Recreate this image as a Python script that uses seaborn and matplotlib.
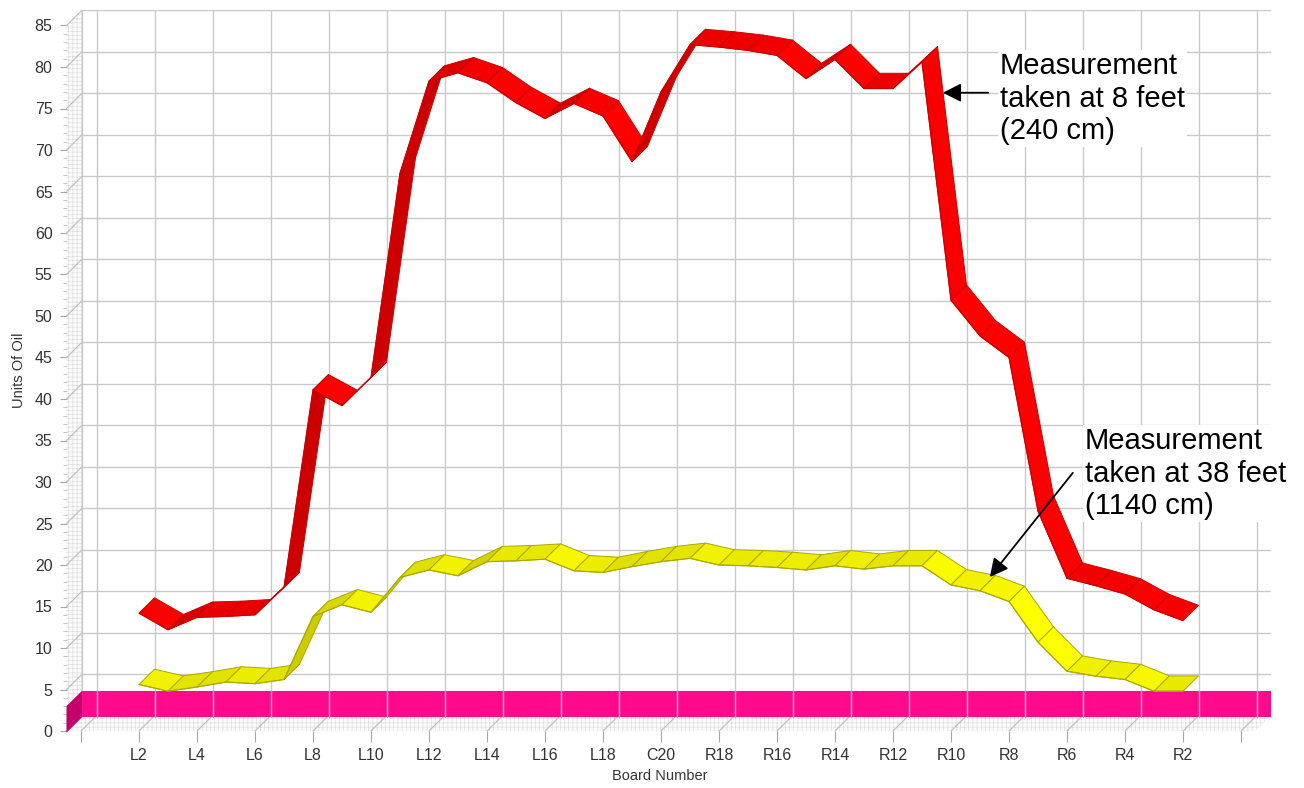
import numpy as np
import pandas as pd
import matplotlib
matplotlib.use("Agg")
import matplotlib.pyplot as plt
from matplotlib.patches import Polygon
import seaborn as sns

# ---------------------------------------------------------------- data
boards = ["L2", "L3", "L4", "L5", "L6", "L7", "L8", "L9", "L10", "L11", "L12",
          "L13", "L14", "L15", "L16", "L17", "L18", "L19", "C20", "R19", "R18",
          "R17", "R16", "R15", "R14", "R13", "R12", "R11", "R10", "R9", "R8",
          "R7", "R6", "R5", "R4", "R3", "R2"]
oil_8ft = [14.2, 12.2, 13.7, 13.8, 14.0, 17.3, 41.1, 39.2, 42.6, 67.2, 78.3,
           79.3, 78.1, 75.7, 73.8, 75.6, 74.1, 68.6, 77.0, 82.7, 82.4,
           82.0, 81.4, 78.6, 80.9, 77.4, 77.4, 80.6, 51.9, 47.6, 45.0,
           26.5, 18.4, 17.5, 16.5, 14.6, 13.3]
oil_38ft = [5.6, 4.8, 5.3, 5.9, 5.7, 6.2, 13.8, 15.2, 14.3, 18.5, 19.4,
            18.7, 20.4, 20.5, 20.7, 19.3, 19.1, 19.8, 20.4, 20.8, 20.0,
            19.9, 19.7, 19.4, 19.9, 19.5, 19.9, 19.9, 17.6, 16.9, 15.6,
            10.7, 7.2, 6.6, 6.2, 4.8, 4.8]
tick_labels = ["", "L2", "L4", "L6", "L8", "L10", "L12", "L14", "L16", "L18",
               "C20", "R18", "R16", "R14", "R12", "R10", "R8", "R6", "R4",
               "R2", ""]
y_ticks = list(range(0, 90, 5))
label_8ft = "Measurement\ntaken at 8 feet\n(240 cm)"
label_38ft = "Measurement\ntaken at 38 feet\n(1140 cm)"


def board_pos(name):
    """Lane position: left boards count up, right boards count down from 40."""
    n = int(name[1:])
    return n if name[0] in "LC" else 40 - n


pos = np.array([board_pos(b) for b in boards], dtype=float)
df = pd.DataFrame({"pos": pos, "ft8": oil_8ft, "ft38": oil_38ft})

# ---------------------------------------------------------------- style
sns.set_theme(style="white")
plt.rcParams["font.family"] = ["Liberation Sans", "DejaVu Sans"]
plt.rcParams["hatch.linewidth"] = 0.4

FIG_W, FIG_H = 1304, 788
PX_BOARD, PX_UNIT = 29.0, 8.3          # screen scale of one board / one unit
DEPTH_PX = (15.5, 15.3)                # oblique depth of the box
X0, X1, Y_TOP = -0.5, 40.5, 85
DB = DEPTH_PX[0] / PX_BOARD
DV = DEPTH_PX[1] / PX_UNIT
LEFT_PX, BOTTOM_PX = 66.5, 731.0

ax_w = (X1 - X0 + DB) * PX_BOARD
ax_h = (Y_TOP + DV) * PX_UNIT
fig = plt.figure(figsize=(FIG_W / 100, FIG_H / 100), dpi=100)
ax = fig.add_axes([LEFT_PX / FIG_W, (FIG_H - BOTTOM_PX) / FIG_H,
                   ax_w / FIG_W, ax_h / FIG_H])
ax.set_xlim(X0, X1 + DB)
ax.set_ylim(0, Y_TOP + DV)
for s in ax.spines.values():
    s.set_visible(False)

GRID = "#c9c9c9"
WALL_HATCH = "#d9d9d9"

# side wall and floor (textured)
left_wall = Polygon([(X0, 0), (X0, Y_TOP), (X0 + DB, Y_TOP + DV), (X0 + DB, DV)],
                    closed=True, facecolor="#fbfbfb", edgecolor=WALL_HATCH,
                    hatch="++++", lw=0, zorder=0.5, clip_on=False)
floor = Polygon([(X0, 0), (X1, 0), (X1 + DB, DV), (X0 + DB, DV)],
                closed=True, facecolor="#fbfbfb", edgecolor=WALL_HATCH,
                hatch="++++", lw=0, zorder=0.5, clip_on=False)
ax.add_patch(left_wall)
ax.add_patch(floor)

# back wall grid
for v in y_ticks:
    ax.plot([X0 + DB, X1 + DB], [v + DV, v + DV], color=GRID, lw=1.0, zorder=1)
    ax.plot([X0, X0 + DB], [v, v + DV], color="#bdbdbd", lw=0.8, zorder=1,
            clip_on=False)
for b in range(0, 41, 2):
    ax.plot([b + DB, b + DB], [DV, Y_TOP + DV], color=GRID, lw=1.0, zorder=1)
    ax.plot([b, b + DB], [0, DV], color="#bdbdbd", lw=0.8, zorder=1,
            clip_on=False)
ax.plot([X0 + DB, X0 + DB], [DV, Y_TOP + DV], color=GRID, lw=1.0, zorder=1)

# magenta base band along the back of the floor
BAND_LO, BAND_HI = -0.2, 3.0
ax.add_patch(Polygon([(X0 + DB, DV + BAND_LO), (X1 + DB, DV + BAND_LO),
                      (X1 + DB, DV + BAND_HI), (X0 + DB, DV + BAND_HI)],
                     closed=True, facecolor="#ff0a8a", lw=0, zorder=2,
                     clip_on=False))
ax.add_patch(Polygon([(X0, BAND_LO), (X0 + DB, DV + BAND_LO),
                      (X0 + DB, DV + BAND_HI), (X0, BAND_HI)],
                     closed=True, facecolor="#c4006a", lw=0, zorder=2,
                     clip_on=False))
for b in range(0, 41, 2):
    ax.plot([b + DB, b + DB], [DV + BAND_LO, DV + BAND_HI], color="#f7a8d2",
            lw=1.0, zorder=2.2)

# ---------------------------------------------------------------- ribbons
LIGHT = np.array([np.sin(np.radians(55)), np.cos(np.radians(55))])


def draw_ribbon(col, base, edge, z):
    xs = df["pos"].to_numpy()
    vs = df[col].to_numpy()
    base = np.array(matplotlib.colors.to_rgb(base))
    for i in range(len(xs) - 1):
        x0, x1, v0, v1 = xs[i], xs[i + 1], vs[i], vs[i + 1]
        th = np.arctan2((v1 - v0) * PX_UNIT, (x1 - x0) * PX_BOARD)
        normal = np.array([-np.sin(th), np.cos(th)])
        shade = 0.8 + 0.2 * max(0.0, float(normal @ LIGHT))
        face = np.clip(base * shade, 0, 1)
        ax.add_patch(Polygon([(x0, v0), (x1, v1), (x1 + DB, v1 + DV),
                              (x0 + DB, v0 + DV)], closed=True,
                             facecolor=face, edgecolor=edge, lw=0.7,
                             joinstyle="round", zorder=z))
    sns.lineplot(data=df, x="pos", y=col, color=edge, lw=0.8, sort=False,
                 estimator=None, ax=ax, zorder=z + 0.1, legend=False)


draw_ribbon("ft38", "#ffff00", "#a9a900", 4)
draw_ribbon("ft8", "#ff0000", "#cc0000", 5)

# ---------------------------------------------------------------- axes text
ax.set_xticks(range(0, 41, 2))
ax.set_xticklabels(tick_labels)
ax.set_yticks(y_ticks)
ax.set_yticks(range(0, 86, 1), minor=True)
ax.tick_params(axis="x", length=8, width=0.8, color="#a6a6a6", pad=4,
               labelsize=11.5, labelcolor="#333333", bottom=True)
ax.tick_params(axis="y", which="major", length=5, width=0.8, color="#a6a6a6",
               pad=5, labelsize=11.5, labelcolor="#333333", left=True)
ax.tick_params(axis="y", which="minor", length=3, width=0.6, color="#bdbdbd",
               left=True)
ax.grid(False)

ax.set_xlabel("Board Number", fontsize=10.5, color="#333333")
ax.set_ylabel("Units Of Oil", fontsize=10.5, color="#333333")
ax.xaxis.set_label_coords((660 - LEFT_PX) / ax_w, -(769 - BOTTOM_PX) / ax_h)
ax.yaxis.set_label_coords((26 - LEFT_PX) / ax_w, (BOTTOM_PX - 370) / ax_h)

# ---------------------------------------------------------------- callouts
box = dict(facecolor="white", edgecolor="none", pad=1.5)
ax.text(31.69, 76.2, label_8ft, fontsize=21, color="black", ha="left",
        va="center", linespacing=1.2, bbox=box, zorder=6)
ax.text(34.62, 31.0, label_38ft, fontsize=21, color="black", ha="left",
        va="center", linespacing=1.2, bbox=box, zorder=6)
arrow = dict(arrowstyle="-|>,head_length=0.55,head_width=0.28", color="black",
             lw=1.3, mutation_scale=20, shrinkA=0, shrinkB=0)
ax.annotate("", xy=(29.72, 76.9), xytext=(31.28, 76.9), arrowprops=arrow,
            zorder=7)
ax.annotate("", xy=(31.34, 18.55), xytext=(34.2, 31.1), arrowprops=arrow,
            zorder=7)

fig.savefig("out.png", dpi=100, facecolor="white")
